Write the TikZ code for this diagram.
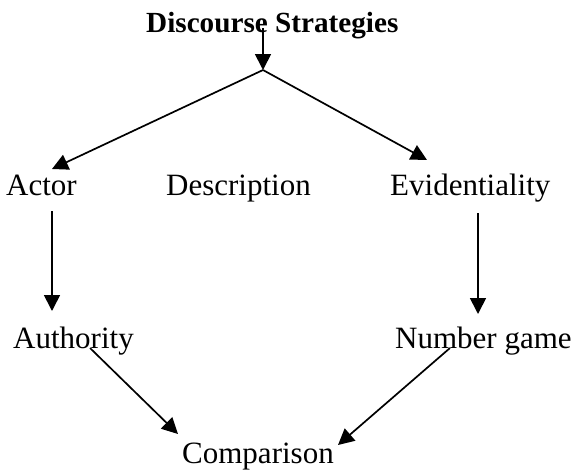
\documentclass[tikz,border=0pt]{standalone}
\usepackage{fontspec}
\setmainfont{Liberation Serif}
\usetikzlibrary{arrows.meta}
\begin{document}
\begin{tikzpicture}[x=1pt,y=-1pt,
  lbl/.style={inner sep=0pt,anchor=base west,font=\fontsize{31}{36}\selectfont},
  ttl/.style={inner sep=0pt,anchor=base west,font=\fontsize{29.2}{34}\selectfont\bfseries},
  conn/.style={line width=1.7pt},
  arr/.style={conn,-{Triangle[length=16pt,width=16pt]}}]
\useasboundingbox (0,0) rectangle (575,472);
\node[ttl] (title) at (146,32) {Discourse Strategies};
\node[lbl] (actor) at (6,195) {Actor};
\node[lbl] (descr) at (166,195) {Description};
\node[lbl] (evid) at (390,195) {Evidentiality};
\node[lbl] (auth) at (13,348) {Authority};
\node[lbl] (numg) at (395,348) {Number game};
\node[lbl] (comp) at (182,463) {Comparison};
\coordinate (t0) at (263,28);
\coordinate (fork) at (263,70);
\coordinate (actin) at (52,169);
\coordinate (evin) at (427,160);
\coordinate (actout) at (52,211);
\coordinate (authin) at (52,311);
\coordinate (evout) at (478,213);
\coordinate (ngin) at (478,314);
\coordinate (authout) at (90,348);
\coordinate (ngout) at (450,348);
\coordinate (cmpl) at (178,434);
\coordinate (cmpr) at (338,445);
\draw[arr] (t0) -- (fork);
\draw[arr] (fork) -- (actin);
\draw[arr] (fork) -- (evin);
\draw[arr] (actout) -- (authin);
\draw[arr] (evout) -- (ngin);
\draw[arr] (authout) -- (cmpl);
\draw[arr] (ngout) -- (cmpr);
\end{tikzpicture}
\end{document}
